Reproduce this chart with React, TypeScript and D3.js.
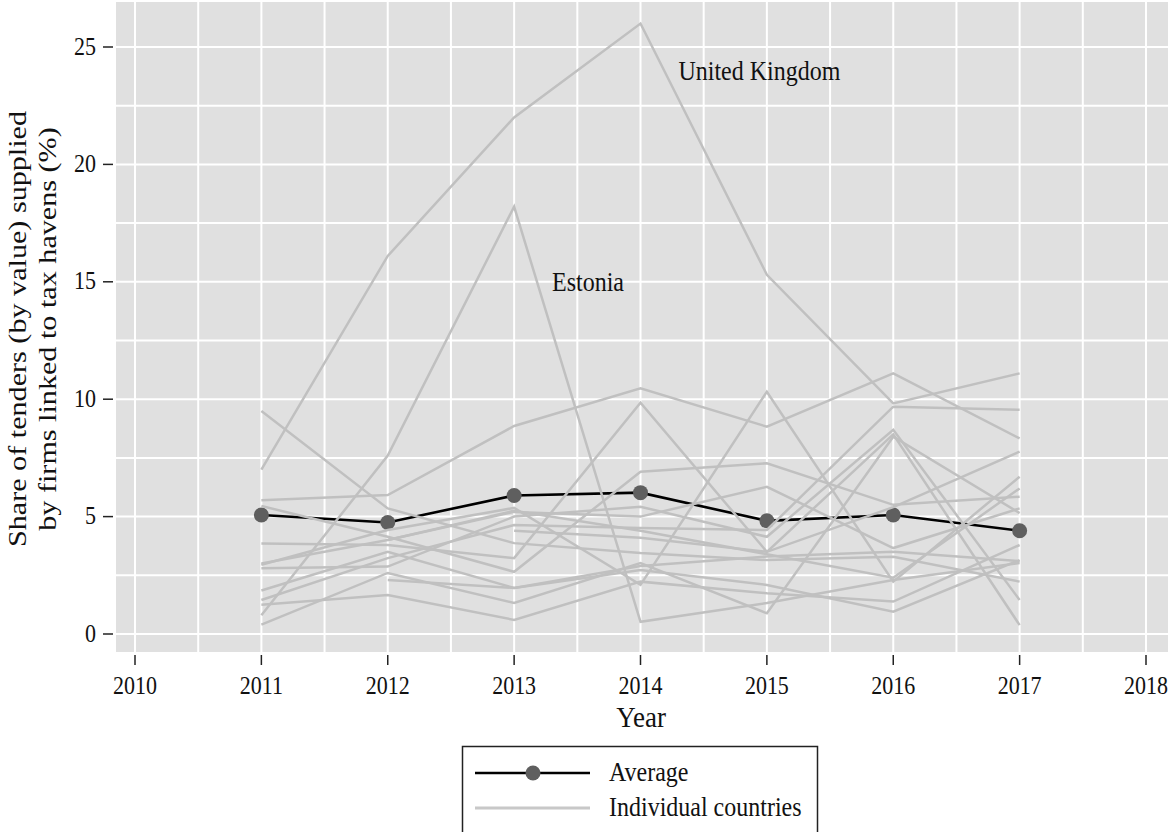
import React from "react";
import * as d3 from "d3";

const years = [2011, 2012, 2013, 2014, 2015, 2016, 2017];
const xTicks = [2010, 2011, 2012, 2013, 2014, 2015, 2016, 2017, 2018];
const yTicks = [0, 5, 10, 15, 20, 25];

const average = [5.07, 4.75, 5.9, 6.02, 4.82, 5.07, 4.4];

const unitedKingdom = [7.0, 16.1, 22.0, 26.0, 15.3, 9.82, 11.1];
const estonia = [0.8, 7.6, 18.2, 0.52, 1.32, 2.3, 3.02];
const countryC = [5.7, 5.92, 8.86, 10.46, 8.83, 11.1, 8.33];
const countryD = [9.5, 5.35, 3.87, 3.45, 3.15, 3.29, 2.23];
const countryE = [5.45, 4.14, 2.65, 6.91, 7.27, 5.5, 5.85];
const countryF = [3.85, 3.79, 3.23, 9.85, 3.5, 8.5, 0.38];
const countryG = [2.95, 4.43, 5.37, 2.09, 10.32, 2.23, 6.7];
const countryH = [2.8, 2.87, 5.0, 5.42, 4.14, 8.7, 1.45];
const countryI = [1.85, 3.5, 1.96, 2.73, 2.09, 0.95, 3.15];
const countryJ = [1.45, 3.23, 4.64, 4.51, 4.43, 9.68, 9.55];
const countryK = [1.25, 1.66, 0.6, 2.23, 1.74, 1.38, 3.79];
const countryL = [0.4, 2.6, 1.32, 3.02, 0.88, 8.4, 5.15];
const countryM = [null, 4.0, 5.2, 5.0, 6.27, 3.66, 5.35];
const countryN = [null, 2.3, 1.96, 2.9, 3.3, 3.5, 3.1];
const countryO = [null, null, 4.4, 4.1, 3.5, 5.4, 7.77];
const countryP = [3.0, 4.0, 5.25, 4.4, 3.4, 2.4, 6.2];

const countries: (number | null)[][] = [
  unitedKingdom, estonia, countryC, countryD, countryE, countryF, countryG,
  countryH, countryI, countryJ, countryK, countryL, countryM, countryN, countryO, countryP,
];

const annotations = [
  { label: "United Kingdom", year: 2014.3, value: 23.6 },
  { label: "Estonia", year: 2013.3, value: 14.6 },
];

const legendItems = ["Average", "Individual countries"];

const W = 1172;
const H = 832;
const panel = { left: 116, right: 1168, top: 2, bottom: 652 };

export default function App() {
  const x = d3.scaleLinear().domain([2010, 2018]).range([135, 1146]);
  const y = d3.scaleLinear().domain([0, 25]).range([634, 47]);

  const line = d3
    .line<number | null>()
    .defined((d) => d !== null)
    .x((_, i) => x(years[i]))
    .y((d) => y(d as number));

  const gridX = d3.range(2009.5, 2018.51, 0.5).filter((v) => x(v) > panel.left && x(v) < panel.right);
  const gridY = d3.range(0, 26, 2.5);

  const font = "'Liberation Serif', 'Times New Roman', serif";
  const sy = 1.12;

  return (
    <svg
      width={W}
      height={H}
      style={{ position: "absolute", left: 0, top: 0, background: "#fff" }}
      fontFamily={font}
    >
      <rect
        x={panel.left}
        y={panel.top}
        width={panel.right - panel.left}
        height={panel.bottom - panel.top}
        fill="#e0e0e0"
      />
      {gridY.map((v) => (
        <line key={"gy" + v} x1={panel.left} x2={panel.right} y1={y(v)} y2={y(v)} stroke="#fff" strokeWidth={2} />
      ))}
      {gridX.map((v) => (
        <line key={"gx" + v} x1={x(v)} x2={x(v)} y1={panel.top} y2={panel.bottom} stroke="#fff" strokeWidth={2} />
      ))}

      {/* average */}
      <path d={line(average) || ""} fill="none" stroke="#000" strokeWidth={2.6} />
      {average.map((v, i) => (
        <circle key={"m" + i} cx={x(years[i])} cy={y(v)} r={7.5} fill="#5f5f5f" />
      ))}

      {countries.map((c, i) => (
        <path key={"c" + i} d={line(c) || ""} fill="none" stroke="#c0c0c0" strokeWidth={2.5} strokeLinejoin="miter" />
      ))}

      {annotations.map((a) => (
        <text
          key={a.label}
          transform={`translate(${x(a.year)},${y(a.value)}) scale(1,${sy})`}
          fontSize={24}
          fill="#111"
        >
          {a.label}
        </text>
      ))}

      {/* y axis */}
      {yTicks.map((t) => (
        <g key={"yt" + t}>
          <line x1={103} x2={113} y1={y(t)} y2={y(t)} stroke="#222" strokeWidth={1.5} />
          <text
            transform={`translate(96,${y(t) + 7.5}) scale(1,${sy})`}
            textAnchor="end"
            fontSize={22}
            fill="#111"
          >
            {t}
          </text>
        </g>
      ))}
      {/* x axis */}
      {xTicks.map((t) => (
        <g key={"xt" + t}>
          <line x1={x(t)} x2={x(t)} y1={655} y2={665} stroke="#222" strokeWidth={1.5} />
          <text
            transform={`translate(${x(t)},694) scale(1,${sy})`}
            textAnchor="middle"
            fontSize={22}
            fill="#111"
          >
            {t}
          </text>
        </g>
      ))}
      <text transform={`translate(641,727) scale(1,${sy})`} textAnchor="middle" fontSize={27} fill="#111">
        Year
      </text>
      <g transform={`translate(26,329) rotate(-90) scale(${1.16},1)`}>
        <text textAnchor="middle" fontSize={26} fill="#111" y={0}>
          Share of tenders (by value) supplied
        </text>
        <text textAnchor="middle" fontSize={26} fill="#111" y={30}>
          by firms linked to tax havens (%)
        </text>
      </g>

      {/* legend */}
      <rect x={462.5} y={746.5} width={355} height={100} fill="#fff" stroke="#222" strokeWidth={1.5} />
      <line x1={475} x2={590} y1={773} y2={773} stroke="#000" strokeWidth={2.6} />
      <circle cx={533} cy={773} r={7.5} fill="#5f5f5f" />
      <line x1={475} x2={590} y1={808} y2={808} stroke="#c8c8c8" strokeWidth={3} />
      {legendItems.map((l, i) => (
        <text
          key={l}
          transform={`translate(609,${781 + i * 35}) scale(1,${sy})`}
          fontSize={24}
          fill="#111"
        >
          {l}
        </text>
      ))}
    </svg>
  );
}
